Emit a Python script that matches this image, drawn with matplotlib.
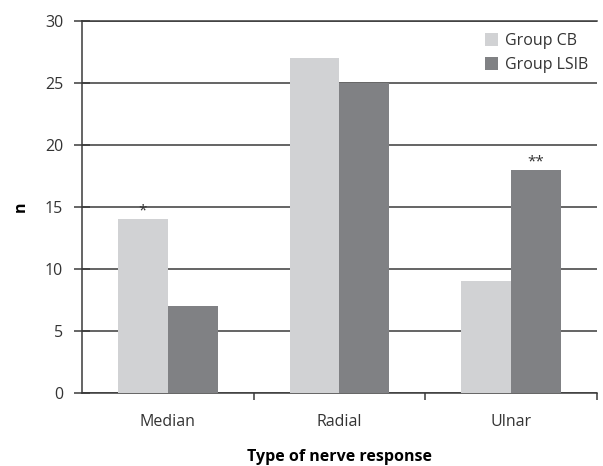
import matplotlib.pyplot as plt
import numpy as np

plt.rcParams['font.family'] = ['Open Sans', 'DejaVu Sans']

categories = ["Median", "Radial", "Ulnar"]
group_cb = [14, 27, 9]
group_lsib = [7, 25, 18]
stars_cb = ["*", "", ""]
stars_lsib = ["", "", "**"]

c_cb = "#d1d2d4"
c_lsib = "#808184"
line_c = "#3a3a3a"
txt_c = "#333333"

fig = plt.figure(figsize=(6.03, 4.66), dpi=100)
ax = fig.add_axes([0.136, 0.157, 0.854, 0.798])

x = np.arange(len(categories))
w = 0.29
ax.bar(x - w / 2, group_cb, w, color=c_cb, label="Group CB", zorder=3)
ax.bar(x + w / 2, group_lsib, w, color=c_lsib, label="Group LSIB", zorder=3)

# significance marks
for i in range(len(categories)):
    if stars_cb[i]:
        ax.text(x[i] - w / 2, group_cb[i] + 0.05, stars_cb[i], ha="center", va="bottom",
                fontsize=11, color=txt_c)
    if stars_lsib[i]:
        ax.text(x[i] + w / 2, group_lsib[i] + 0.05, stars_lsib[i], ha="center", va="bottom",
                fontsize=11, color=txt_c)

ax.set_xlim(-0.5, 2.5)
ax.set_ylim(0, 30)
ax.set_yticks(range(0, 31, 5))
ax.yaxis.grid(True, color=line_c, linewidth=1.1, zorder=0)
ax.set_axisbelow(True)

ax.set_xticks([0.5, 1.5, 2.5])
ax.set_xticklabels([])
ax.set_xticks(x, minor=True)
ax.set_xticklabels(categories, minor=True)
ax.tick_params(axis="x", which="minor", length=0, pad=15, labelsize=11.5, labelcolor=txt_c)
ax.tick_params(axis="x", which="major", direction="out", length=5, width=1.1, color=line_c)
ax.tick_params(axis="y", direction="inout", length=11, width=1.1, color=line_c,
               labelsize=11.5, labelcolor=txt_c, pad=8)

ax.spines["right"].set_visible(False)
for s in ["top", "left", "bottom"]:
    ax.spines[s].set_color(line_c)
    ax.spines[s].set_linewidth(1.1)

ax.set_ylabel("n", fontweight="bold", fontsize=11.5, labelpad=12)
fig.text(0.563, 0.02, "Type of nerve response", fontweight="bold", fontsize=11.5,
         ha="center", va="center")

leg = ax.legend(loc="upper right", frameon=False, fontsize=11.5, handlelength=0.85,
                handleheight=0.85, handletextpad=0.4, labelspacing=0.5,
                borderaxespad=0.0, bbox_to_anchor=(0.995, 0.985))
for t in leg.get_texts():
    t.set_color(txt_c)

fig.savefig("out.png", dpi=100)
